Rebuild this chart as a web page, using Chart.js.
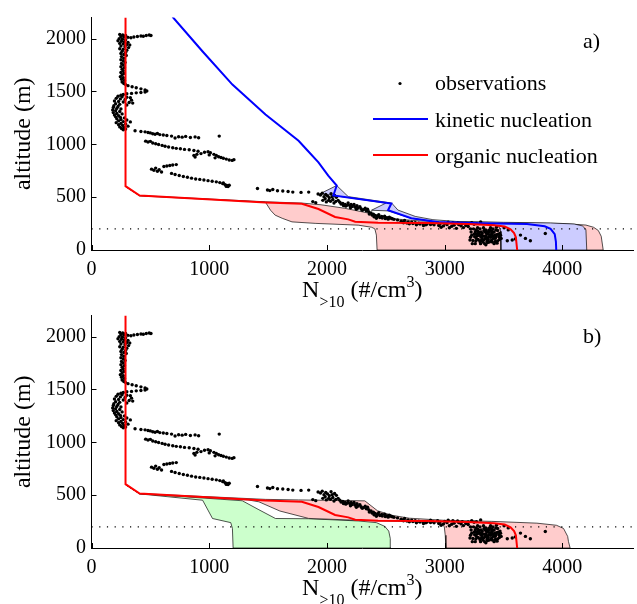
<!DOCTYPE html>
<html>
<head>
<meta charset="utf-8">
<script src="https://cdn.jsdelivr.net/npm/chart.js@4.4.1/dist/chart.umd.min.js"></script>
<style>
  html, body { margin: 0; padding: 0; background: #fff; }
  #wrap { position: relative; width: 637px; height: 604px; overflow: hidden; }
  #wrap canvas { position: absolute; left: 0; }
</style>
</head>
<body>
<div id="wrap">
  <canvas id="panelA" width="637" height="312" style="top:0"></canvas>
  <canvas id="panelB" width="637" height="306" style="top:298px"></canvas>
</div>
<script>
// axes
const xTicks = [0, 1000, 2000, 3000, 4000];
const yTicks = [0, 500, 1000, 1500, 2000];
const xMax = 4600, yMax = 2200;
const blhAlt = 200; // mixed layer top (dotted)

// observed N>10 profile, [N, altitude]
const obsTop = [
  [240,2040],[265,2035],[290,2030],[250,2020],[275,2015],[310,2012],[335,2008],[360,2015],[390,2020],[420,2025],
  [440,2022],[465,2030],[490,2035],[505,2030],[235,2000],[262,1995],[290,1990],[225,1980],[255,1975],[280,1970],
  [310,1965],[240,1955],[270,1950],[300,1945],[325,1940],[250,1930],[285,1925],[315,1915],[240,1905],[270,1900],
  [300,1890],[260,1880],[290,1870],[250,1860],[275,1850],[295,1840],[255,1830],[275,1815],[250,1800],[270,1790],
  [285,1775],[255,1765],[270,1750],[250,1735],[280,1725],[260,1710],[270,1695],[250,1680],[275,1670],[260,1655],
  [245,1640],[270,1630],[255,1615],[280,1605],[260,1590],[275,1575],[290,1565]
];
const obsLoop = [
  [310,1555],[345,1545],[380,1535],[420,1525],[455,1515],[470,1505],[455,1495],[420,1490],[380,1487],[340,1482],
  [300,1478],[270,1472],[250,1465],[225,1455],[260,1450],[300,1445],[330,1440],[210,1435],[245,1430],[285,1425],
  [340,1418],[195,1410],[230,1405],[270,1400],[320,1395],[350,1390],[205,1385],[240,1378],[300,1372],[190,1365],
  [225,1358],[185,1348],[215,1340],[250,1335],[180,1325],[205,1318],[240,1310],[185,1300],[215,1292],[260,1288],
  [195,1278],[230,1270],[205,1260],[245,1255],[280,1250],[215,1242],[250,1235],[300,1230],[230,1222],[270,1215],
  [330,1212],[210,1205],[250,1198],[290,1192],[230,1185],[265,1178],[310,1172],[240,1165],[280,1158],[255,1150],
  [290,1145],[270,1138]
];
const obsBranches = [
  [370,1128],[420,1122],[455,1118],[480,1112],[500,1108],[520,1100],[540,1095],[560,1102],[580,1092],[610,1088],
  [640,1083],[680,1078],[710,1060],[740,1072],[770,1068],[800,1075],[840,1065],[880,1070],[910,1062],[1085,1078],
  [460,1030],[480,1022],[500,1028],[520,1012],[545,1005],[570,998],[600,990],[625,982],[655,975],[690,968],
  [720,962],[755,958],[790,952],[830,948],[870,942],[905,935],[930,912],[895,905],[870,895],[960,925],
  [990,930],[1010,920],[1040,905],[1060,895],[1080,882],[1100,875],[1120,868],[1145,860],[1170,852],[1195,848],
  [1210,855],[1050,872],[880,880],[1000,900],
  [510,765],[530,755],[545,775],[560,745],[575,760],[595,738],[615,790],[640,795],[665,800],[690,805],
  [720,808],[680,725],[710,715],[745,705],[780,695],[815,688],[850,680],[885,672],[920,668],[955,662],
  [990,656],[1025,650],[1060,645],[1090,638],[1115,628],[1135,618],[1150,610],[1160,600],[1170,612],[1145,602],
  [1120,635],
  [1410,582],[1495,568],[1515,562],[1540,572],[1580,560],[1625,558],[1670,553],[1710,548],[1780,545],[1845,548]
];
const obsBand = [
  [1880,458],[1905,448],[1925,530],[1945,520],[1960,538],[1975,505],[1990,525],[2005,512],[2020,495],[2035,532],
  [2050,478],[2065,515],[2080,498],[2095,470],[1965,470],[1995,455],[2030,462],[2060,445],[2110,452],[2135,440],
  [2155,432],[2175,425],[2195,420],[2215,412],[2240,405],[2265,398],[2290,390],[2310,382],[2335,372],[2355,362],
  [2375,350],[2395,338],[2410,328],[2430,318],[2450,308],[2470,302],[2495,298],[2520,292],[2545,300],[2570,290],
  [2600,285],[2180,445],[2230,430],[2280,410],[2325,395],[2360,340],[2400,315],[2440,335],[2490,320],[2530,310],
  [2200,400],[2250,385],[2140,420],[1985,485],[2015,470],[2045,505],[2075,460],[2120,435],[2160,415],[2205,432],
  [2255,420],[2300,375],[2345,385],[2385,330],[2420,300],[2465,318],[2510,305],[2555,295],
  [2630,272],[2660,280],[2690,266],[2720,262],[2750,258],[2780,254],[2815,250],[2850,246],[2880,242],[2910,238],
  [2950,232],[2990,228],[3030,262],[3070,258],[3110,255],[3150,250],[3200,246],[3250,244],[3306,266],[2700,248],
  [2760,238],[2820,232],[2880,262],[2940,258],[3000,252],[3080,235],[3140,228],[3200,222],[2650,258],
  [2640,265],[2680,255],[2730,250],[2790,245],[2840,238],[2900,250],[2960,245],[3020,240],[3060,225],[3120,240],
  [3180,232],[3230,258],[3270,250],[2970,215],[3040,210],[3100,205],[3160,212],[3220,200]
];
const obsSurface = [
  [3220,120],[3240,90],[3250,150],[3260,60],[3270,110],[3280,180],[3290,140],[3300,80],[3300,200],[3310,120],
  [3320,160],[3330,95],[3340,60],[3340,130],[3350,190],[3360,110],[3370,150],[3380,75],[3380,170],[3390,120],
  [3400,95],[3400,140],[3410,200],[3420,60],[3420,170],[3430,110],[3440,145],[3450,85],[3450,185],[3460,125],
  [3470,160],[3350,50],[3280,210],[3230,140],[3310,170],[3330,210],[3390,210],[3440,215],[3360,80],[3320,100],
  [3270,150],[3350,130],[3410,130],[3370,100],[3300,140],[3430,80],[3260,170],[3480,110],[3360,165],[3400,180],
  [3215,95],[3225,170],[3235,60],[3245,200],[3255,125],[3265,85],[3275,135],[3285,100],[3295,165],[3305,60],
  [3315,145],[3325,75],[3335,185],[3345,105],[3355,155],[3365,70],[3375,125],[3385,195],[3395,85],[3405,160],
  [3415,110],[3425,140],[3435,190],[3445,65],[3455,150],[3465,100],[3475,140],[3285,160],[3345,170],[3405,75],
  [3325,130],[3375,185],[3435,125],[3265,190],[3310,90],[3390,145],
  [3505,210],[3532,88],[3574,94],[3600,105],[3644,141],[3686,110],[3728,88],[3855,156],[3540,190]
];
const observations = [...obsTop, ...obsLoop, ...obsBranches, ...obsBand, ...obsSurface];

// modelled profiles, [N, altitude]
const organicLine = [
  [289,2200],[289,604],[409,515],[1478,450],[1787,438],[1928,388],[2069,313],[2181,290],[2240,268],[2435,257],
  [2856,256],[3200,246],[3420,235],[3510,222],[3560,195],[3590,160],[3605,120],[3616,0]
];
const kineticLine = [
  [688,2207],[944,1878],[1197,1565],[1478,1283],[1759,1033],[1837,939],[1928,829],[2011,704],[2083,610],[2055,516],
  [2547,440],[2519,376],[2716,300],[2941,264],[3300,254],[3700,247],[3850,225],[3900,200],[3935,150],[3945,80],[3948,0]
];

// sensitivity ranges (min / max edge), panel a
const orgMinA = [[289,600],[409,512],[1478,452],[1521,376],[1560,330],[1620,300],[1703,266],[1900,252],[2266,235],[2380,215],[2407,200],[2420,141],[2426,0]];
const orgMaxA = [[289,600],[409,515],[1478,456],[1787,444],[1950,428],[2150,395],[2350,350],[2450,325],[2600,292],[2800,274],[3200,265],[3600,258],[4000,250],[4200,236],[4265,215],[4305,185],[4330,130],[4347,0]];
const kinMinA = [[2083,610],[1941,532],[2055,516],[2500,443],[2378,376],[2519,370],[2716,300],[2941,262],[3250,250],[3420,240],[3465,215],[3475,180],[3478,0]];
const kinMaxA = [[2083,610],[2181,505],[2550,444],[2603,378],[2750,318],[2900,287],[3100,270],[3500,262],[3900,256],[4100,246],[4170,228],[4200,195],[4207,0]];

// sensitivity ranges, panel b
const orgMinB = [[289,600],[409,512],[1330,455],[1422,437],[1600,350],[1844,280],[2266,262],[2600,252],[2941,244],[2980,225],[2997,200],[3005,120],[3011,0]];
const orgMaxB = [[289,600],[409,515],[1480,460],[1759,455],[2322,446],[2430,352],[2550,310],[2700,282],[2997,262],[3400,252],[3784,235],[3950,215],[4010,185],[4045,110],[4052,60],[4066,0]];
const lowMinB = [[289,600],[409,512],[944,452],[1028,279],[1183,240],[1197,185],[1203,0]];
const lowMaxB = [[289,600],[409,515],[1281,447],[1422,362],[1563,279],[1844,277],[2266,256],[2420,240],[2491,205],[2525,160],[2538,90],[2542,0]];

const PINK = 'rgb(255,204,204)', LILAC = 'rgb(204,204,255)', MINT = 'rgb(204,255,204)';
const SERIF = '"Liberation Serif", "Times New Roman", serif';

const xy = a => a.map(([x, y]) => ({x, y}));
const ring = (lo, hi) => xy([...lo, ...hi.slice().reverse()]);

function bandSet(lo, hi, color, order) {
  return {data: ring(lo, hi), showLine: true, fill: 'shape', backgroundColor: color,
          borderColor: 'rgba(0,0,0,0.85)', borderWidth: 0.8, pointRadius: 0, order};
}
function lineSet(pts, color, order) {
  return {data: xy(pts), showLine: true, fill: false, borderColor: color, borderWidth: 2,
          pointRadius: 0, order};
}
function dottedSet(order) {
  return {data: xy([[0, blhAlt], [xMax, blhAlt]]), showLine: true, fill: false, borderColor: '#000',
          borderWidth: 1.2, borderDash: [1.2, 6.5], pointRadius: 0, order};
}
function obsSet(order) {
  return {data: xy(observations), showLine: false, pointRadius: 1.7, pointBackgroundColor: '#000',
          pointBorderWidth: 0, order};
}

// axis ticks pointing inwards, titles, panel letter and legend
function decor(letter, letterY, withLegend) {
  return {
    id: 'decor',
    afterDraw(chart) {
      const {ctx, chartArea: a, scales: {x, y}} = chart;
      ctx.save();
      ctx.strokeStyle = '#000';
      ctx.lineWidth = 1;
      ctx.beginPath();
      xTicks.forEach(v => {
        const p = Math.round(x.getPixelForValue(v)) + 0.5;
        ctx.moveTo(p, a.bottom); ctx.lineTo(p, a.bottom - 5);
      });
      yTicks.forEach(v => {
        const p = Math.round(y.getPixelForValue(v)) + 0.5;
        ctx.moveTo(a.left, p); ctx.lineTo(a.left + 5, p);
      });
      ctx.stroke();

      ctx.fillStyle = '#000';
      // y title
      ctx.save();
      ctx.font = '24px ' + SERIF;
      ctx.translate(24, (a.top + a.bottom) / 2);
      ctx.rotate(-Math.PI / 2);
      ctx.textAlign = 'center';
      ctx.textBaseline = 'middle';
      ctx.fillText('altitude (m)', 0, 0);
      ctx.restore();

      // x title: N_{>10} (#/cm^3)
      const big = '24px ' + SERIF, small = '16px ' + SERIF;
      const parts = [
        ['N', big, 0], ['>10', small, 10], [' (#/cm', big, 0], ['3', small, -10], [')', big, 0]
      ];
      let total = 0;
      parts.forEach(p => { ctx.font = p[1]; p.push(ctx.measureText(p[0]).width); total += p[3]; });
      let cx = (a.left + a.right) / 2 - total / 2;
      const base = a.bottom + 47;
      ctx.textAlign = 'left';
      ctx.textBaseline = 'alphabetic';
      parts.forEach(p => { ctx.font = p[1]; ctx.fillText(p[0], cx, base + p[2]); cx += p[3]; });

      // panel letter
      ctx.font = '22px ' + SERIF;
      ctx.fillText(letter, 583, letterY);

      if (withLegend) {
        const lx0 = 373, lx1 = 428, tx = 435;
        ctx.beginPath();
        ctx.arc(400, 83.5, 1.6, 0, Math.PI * 2);
        ctx.fill();
        ctx.fillText('observations', tx, 90);
        ctx.lineWidth = 2;
        ctx.strokeStyle = '#0000ff';
        ctx.beginPath(); ctx.moveTo(lx0, 119); ctx.lineTo(lx1, 119); ctx.stroke();
        ctx.fillText('kinetic nucleation', tx, 126.5);
        ctx.strokeStyle = '#ff0000';
        ctx.beginPath(); ctx.moveTo(lx0, 155); ctx.lineTo(lx1, 155); ctx.stroke();
        ctx.fillText('organic nucleation', tx, 162.5);
      }
      ctx.restore();
    }
  };
}

function makeChart(id, datasets, letter, letterY, withLegend) {
  const canvas = document.getElementById(id);
  const H = canvas.height;
  const tickFont = {family: SERIF, size: 20};
  return new Chart(canvas, {
    type: 'scatter',
    data: {datasets},
    options: {
      responsive: false,
      devicePixelRatio: 1,
      animation: false,
      events: [],
      layout: {padding: {top: 15, right: 0, bottom: 0, left: 0}},
      plugins: {legend: {display: false}, tooltip: {enabled: false}},
      scales: {
        x: {
          type: 'linear', min: 0, max: xMax,
          grid: {display: false, drawTicks: false},
          border: {color: '#000', width: 1},
          ticks: {font: tickFont, color: '#000', padding: 8, maxRotation: 0, callback: v => String(v)},
          afterBuildTicks: s => { s.ticks = xTicks.map(v => ({value: v})); },
          afterFit: s => { s.height = H - 250; }
        },
        y: {
          type: 'linear', min: 0, max: yMax,
          grid: {display: false, drawTicks: false},
          border: {color: '#000', width: 1},
          ticks: {font: tickFont, color: '#000', padding: 5.5, callback: v => String(v)},
          afterBuildTicks: s => { s.ticks = yTicks.map(v => ({value: v})); },
          afterFit: s => { s.width = 91.5; }
        }
      }
    },
    plugins: [decor(letter, letterY, withLegend)]
  });
}

makeChart('panelA', [
  lineSet(organicLine, '#ff0000', 0),
  lineSet(kineticLine, '#0000ff', 1),
  obsSet(2),
  dottedSet(3),
  bandSet(kinMinA, kinMaxA, LILAC, 4),
  bandSet(orgMinA, orgMaxA, PINK, 5)
], 'a)', 48, true);

makeChart('panelB', [
  lineSet(organicLine, '#ff0000', 0),
  obsSet(1),
  dottedSet(2),
  bandSet(orgMinB, orgMaxB, PINK, 3),
  bandSet(lowMinB, lowMaxB, MINT, 4)
], 'b)', 45, false);
</script>
</body>
</html>
